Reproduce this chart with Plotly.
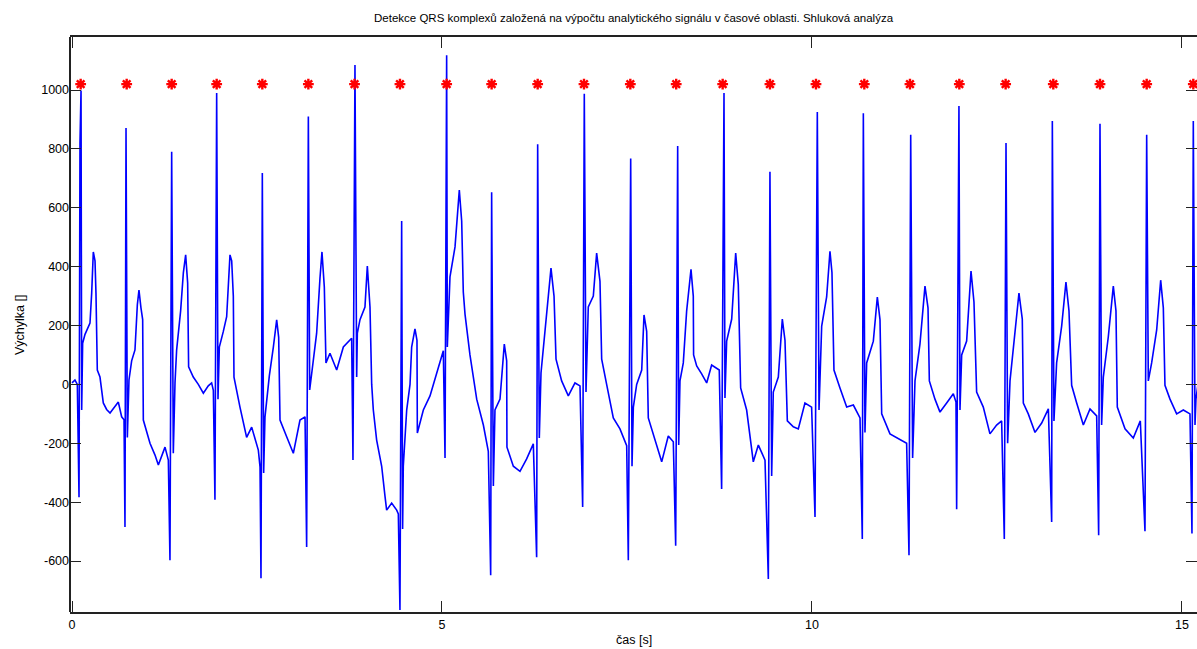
import plotly.graph_objects as go

# ECG trace (time in s, amplitude in [])
ecg_time = [
    0.000, 0.040, 0.072, 0.095, 0.108, 0.122, 0.131, 0.144, 0.176, 0.243, 0.266, 0.288, 0.311, 0.324, 0.342, 0.378, 0.423, 0.468, 0.514, 0.581, 0.626, 0.671,
    0.703, 0.716, 0.730, 0.748, 0.770, 0.806, 0.851, 0.883, 0.905, 0.932, 0.955, 0.964, 1.009, 1.054, 1.122, 1.167, 1.257, 1.302,
    1.324, 1.347, 1.369, 1.392, 1.414, 1.468, 1.505, 1.536, 1.563, 1.576, 1.639, 1.707, 1.775, 1.842, 1.887, 1.910,
    1.932, 1.955, 1.973, 1.991, 2.045, 2.090, 2.135, 2.158, 2.180, 2.189, 2.270, 2.360, 2.428, 2.518, 2.541,
    2.554, 2.572, 2.590, 2.608, 2.667, 2.721, 2.766, 2.793, 2.811, 2.901, 2.991, 3.081, 3.149,
    3.171, 3.194, 3.212, 3.239, 3.261, 3.306, 3.351, 3.378, 3.410, 3.432, 3.486, 3.577, 3.667, 3.779,
    3.797, 3.824, 3.847, 3.856, 3.892, 3.959, 3.991, 4.027, 4.050, 4.072, 4.117, 4.185, 4.230, 4.252, 4.320, 4.388, 4.410,
    4.432, 4.455, 4.468, 4.477, 4.523, 4.568, 4.590, 4.635, 4.662, 4.667, 4.748, 4.838, 4.928, 5.018,
    5.041, 5.063, 5.072, 5.108, 5.176, 5.234, 5.266, 5.288, 5.311, 5.378, 5.469, 5.559, 5.626,
    5.658, 5.671, 5.694, 5.716, 5.784, 5.842, 5.874, 5.878, 5.964, 6.054, 6.144, 6.234,
    6.279, 6.293, 6.315, 6.338, 6.414, 6.473, 6.514, 6.541, 6.617, 6.707, 6.797, 6.865,
    6.901, 6.923, 6.946, 6.977, 7.045, 7.090, 7.135, 7.158, 7.225, 7.315, 7.405, 7.496,
    7.518, 7.550, 7.568, 7.586, 7.631, 7.699, 7.730, 7.766, 7.788, 7.856, 7.969, 8.058, 8.126,
    8.158, 8.185, 8.199, 8.216, 8.261, 8.306, 8.365, 8.396, 8.400, 8.442, 8.509, 8.577, 8.644, 8.747,
    8.779, 8.811, 8.824, 8.847, 8.915, 8.969, 9.004, 9.036, 9.117, 9.207, 9.275, 9.365,
    9.410, 9.432, 9.455, 9.477, 9.545, 9.599, 9.635, 9.667, 9.748, 9.815, 9.905, 9.995,
    10.041, 10.072, 10.095, 10.131, 10.198, 10.243, 10.270, 10.297, 10.378, 10.469, 10.559, 10.649,
    10.680, 10.694, 10.716, 10.739, 10.829, 10.883, 10.919, 10.942, 11.054, 11.144, 11.279,
    11.311, 11.334, 11.360, 11.392, 11.459, 11.527, 11.568, 11.586, 11.662, 11.730, 11.820, 11.910, 11.946,
    11.955, 11.986, 12.000, 12.023, 12.090, 12.149, 12.189, 12.225, 12.315, 12.405, 12.495, 12.563,
    12.599, 12.622, 12.644, 12.676, 12.766, 12.797, 12.842, 12.856, 12.923, 13.014, 13.104, 13.194,
    13.239, 13.248, 13.270, 13.306, 13.374, 13.432, 13.473, 13.509, 13.577, 13.667, 13.757, 13.847,
    13.874, 13.892, 13.914, 13.937, 14.004, 14.072, 14.108, 14.126, 14.230, 14.342, 14.437,
    14.500, 14.523, 14.545, 14.590, 14.658, 14.712, 14.748, 14.770, 14.838, 14.928, 15.018, 15.108,
    15.135, 15.153, 15.176, 15.189, 15.216,
]

ecg_amp = [
    5, 15, 0, -383, 820, 998, -87, 140, 170, 208, 310, 450, 420, 310, 49, 25, -63, -85, -97, -75, -60, -110,
    -120, -484, 871, -180, 15, 80, 117, 270, 320, 260, 220, -121, -160, -200, -240, -274, -213, -257,
    -597, 790, -234, 5, 117, 250, 380, 440, 344, 60, 25, 0, -30, -5, 5, -20,
    -392, 990, -50, 127, 180, 230, 440, 420, 300, 25, -77, -180, -145, -223, -280,
    -658, 718, -301, -110, 30, 127, 219, 160, -121, -178, -234, -121, -110,
    -552, 910, -19, 40, 83, 174, 360, 450, 330, 73, 106, 49, 127, 157,
    -257, 1085, 25, 174, 220, 263, 402, 263, 0, -87, -189, -278, -380, -427, -403, -427, -440,
    -766, 555, -491, -278, -87, 0, 127, 189, 150, -165, -87, -39, 39, 114,
    -250, 1118, 127, 365, 467, 660, 555, 314, 239, 100, -50, -138, -227,
    -648, 653, -345, -87, -50, 137, 80, -213, -278, -295, -253, -202,
    -587, 816, -182, 39, 239, 395, 300, 86, 12, -39, 5, -5,
    -416, 987, -26, 263, 300, 446, 350, 86, 0, -114, -151, -208,
    -597, 767, -278, -77, 0, 49, 236, 180, -114, -168, -263, -175, -195,
    -548, 810, -206, 12, 73, 249, 391, 300, 100, 63, 36, 5, 66, 49,
    -355, 990, -46, 147, 222, 446, 340, -12, -87, -263, -206, -257,
    -661, 722, -311, -26, 25, 222, 150, -124, -144, -151, -63, -77,
    -450, 925, -87, 198, 297, 452, 380, 49, -12, -77, -70, -114,
    -525, 921, -163, 73, 147, 297, 220, -100, -168, -182, -200,
    -580, 848, -250, 12, 137, 334, 260, 12, -50, -94, -63, -32, -60,
    -424, 946, -87, 100, 147, 385, 280, -26, -77, -168, -138, -124,
    -525, 820, -200, 12, 222, 310, 222, -63, -100, -163, -131, -83,
    -467, 895, -124, 73, 198, 348, 250, -3, -63, -138, -83, -107,
    -512, 885, -138, 25, 161, 334, 250, -77, -151, -182, -124,
    -499, 848, 12, 73, 185, 354, 260, -3, -50, -100, -87, -100,
    -506, 895, -138, -50, 0,
]

# Detected QRS positions (red stars)
qrs_time = [0.117, 0.739, 1.347, 1.955, 2.572, 3.194, 3.818, 4.432, 5.063, 5.671,
            6.293, 6.919, 7.545, 8.165, 8.793, 9.432, 10.054, 10.707, 11.324, 11.991,
            12.617, 13.261, 13.892, 14.523, 15.153]
qrs_level = [1020] * len(qrs_time)

x_ticks = [0, 5, 10, 15]
y_ticks = [-600, -400, -200, 0, 200, 400, 600, 800, 1000]
y_tick_text = ["-600", "-400", "-200", "0", "200", "400", "600", "800", "1000"]

title_text = "Detekce QRS komplexů založená na výpočtu analytického signálu v časové oblasti. Shluková analýza"
x_label = "čas [s]"
y_label = "Výchylka []"

assert len(ecg_time) == len(ecg_amp)

fig = go.Figure()
fig.add_trace(go.Scatter(
    x=ecg_time, y=ecg_amp, mode="lines",
    line=dict(color="#0000ff", width=1.6),
    showlegend=False, hoverinfo="skip",
))
fig.add_trace(go.Scatter(
    x=qrs_time, y=qrs_level, mode="markers",
    marker=dict(symbol="asterisk-open", size=9, color="#ff0000",
                line=dict(color="#ff0000", width=2.4)),
    showlegend=False, hoverinfo="skip",
))

font_main = "Liberation Sans, Arial, sans-serif"
axis_col = "#222222"

fig.update_layout(
    width=1197, height=649,
    margin=dict(l=70, r=0, t=37, b=37),
    paper_bgcolor="white", plot_bgcolor="white",
    font=dict(family=font_main, size=12.5, color="black"),
    xaxis=dict(
        range=[-0.027, 15.203], tickvals=x_ticks, ticks="inside", ticklen=11,
        tickcolor=axis_col, showline=True, linecolor=axis_col, linewidth=2,
        mirror="ticks", showgrid=False, zeroline=False,
        tickfont=dict(family=font_main, size=12.5),
    ),
    yaxis=dict(
        range=[-773, 1180], tickvals=y_ticks, ticktext=y_tick_text,
        ticks="inside", ticklen=11, tickcolor=axis_col,
        showline=False, mirror="ticks", showgrid=False, zeroline=False,
        tickfont=dict(family=font_main, size=12.5),
    ),
    shapes=[
        dict(type="line", xref="paper", yref="paper", x0=0, x1=0, y0=0, y1=1,
             line=dict(color=axis_col, width=2)),
    ],
    annotations=[
        dict(text=title_text, xref="paper", yref="paper", x=0.5, y=1.033,
             xanchor="center", yanchor="middle", showarrow=False,
             font=dict(family=font_main, size=11.5)),
        dict(text=x_label, xref="paper", yref="paper", x=0.5, y=-0.0487,
             xanchor="center", yanchor="middle", showarrow=False,
             font=dict(family=font_main, size=12.5)),
        dict(text=y_label, xref="paper", yref="paper", x=-0.0444, y=0.499,
             xanchor="center", yanchor="middle", showarrow=False, textangle=-90,
             font=dict(family=font_main, size=12.5)),
    ],
)

fig.write_html("out.html")
